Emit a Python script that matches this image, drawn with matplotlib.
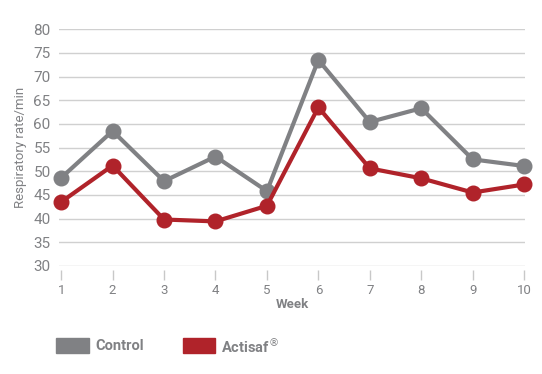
import matplotlib
matplotlib.use("Agg")
import matplotlib.pyplot as plt
from matplotlib.patches import Rectangle

weeks = [1, 2, 3, 4, 5, 6, 7, 8, 9, 10]
control = [48.6, 58.5, 47.9, 53.1, 45.8, 73.5, 60.4, 63.3, 52.5, 51.1]
actisaf = [43.5, 51.2, 39.8, 39.4, 42.7, 63.5, 50.6, 48.5, 45.5, 47.2]
yticks = [30, 35, 40, 45, 50, 55, 60, 65, 70, 75, 80]

GRAY = "#808184"
RED = "#b0232a"
TXT = "#808184"

plt.rcParams['font.family'] = ['Roboto', 'DejaVu Sans']

fig = plt.figure(figsize=(5.42, 3.74), dpi=100)
ax = fig.add_axes([0.109, 0.289, 0.86, 0.633])

ax.plot(weeks, control, color=GRAY, lw=3.0, marker='o', ms=10.5, clip_on=False, zorder=3)
ax.plot(weeks, actisaf, color=RED, lw=3.0, marker='o', ms=10.5, clip_on=False, zorder=4)

ax.set_xlim(0.96, 10.02)
ax.set_ylim(30, 80)
ax.set_yticks(yticks)
ax.set_xticks(weeks)
ax.grid(axis='y', color='#d0d0d0', lw=1.0, zorder=0)
ax.set_axisbelow(True)
for s in ['top', 'right', 'left']:
    ax.spines[s].set_visible(False)
ax.spines['bottom'].set_position(('outward', 3))
ax.spines['bottom'].set_visible(False)
ax.tick_params(axis='y', length=0, pad=6, labelsize=11, labelcolor=TXT)
ax.tick_params(axis='x', length=7, width=1, color='#c8c8c8', pad=3, labelsize=9.5, labelcolor=TXT)
ax.set_xlabel("Week", fontsize=9.5, color=TXT, fontweight='bold', labelpad=1)
ax.set_ylabel("Respiratory rate/min", fontsize=9.5, color=TXT, labelpad=5)

# legend
fig.patches.append(Rectangle((56/542, 1-353/374), 33/542, 15/374, transform=fig.transFigure, color=GRAY))
fig.text(95/542, 1-346/374, "Control", fontsize=10.5, fontweight='bold', color=TXT, va='center')
fig.patches.append(Rectangle((183/542, 1-353/374), 32/542, 15/374, transform=fig.transFigure, color=RED))
fig.text(221/542, 1-346/374, "Actisaf$^{\\circledR}$", fontsize=10.5, fontweight='bold', color=TXT, va='center')

fig.savefig("out.png", dpi=100)
